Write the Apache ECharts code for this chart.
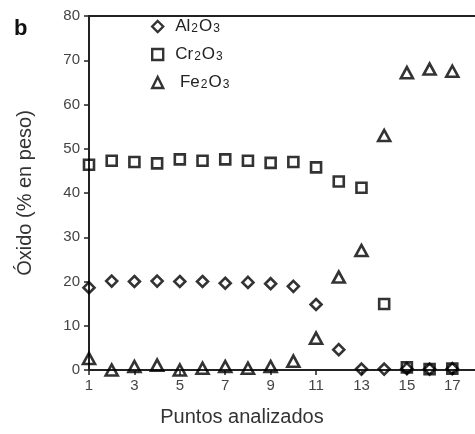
<!DOCTYPE html>
<html>
<head>
<meta charset="utf-8">
<script src="https://cdn.jsdelivr.net/npm/echarts@6/dist/echarts.min.js"></script>
<style>
  html, body { margin: 0; padding: 0; background: #fff; }
  #chart { width: 475px; height: 434px; }
</style>
</head>
<body>
<div id="chart"></div>
<script>
// puntos analizados 1..17
var puntos = [1, 2, 3, 4, 5, 6, 7, 8, 9, 10, 11, 12, 13, 14, 15, 16, 17];
var al2o3 = [18.6, 20.1, 20.0, 20.1, 20.0, 20.0, 19.6, 19.8, 19.5, 18.9, 14.8, 4.6, 0.2, 0.2, 0.3, 0.2, 0.3];
var cr2o3 = [46.4, 47.3, 47.0, 46.7, 47.6, 47.3, 47.6, 47.3, 46.8, 47.0, 45.8, 42.6, 41.2, 14.9, 0.6, 0.2, 0.3];
var fe2o3 = [2.6, 0.0, 0.8, 1.1, 0.0, 0.4, 0.8, 0.4, 0.8, 2.0, 7.2, 21.0, 27.0, 53.0, 67.2, 68.0, 67.5];
var xTicks = [1, 3, 5, 7, 9, 11, 13, 15, 17];

function pares(vals) {
  return vals.map(function (v, i) { return [puntos[i], v]; });
}

var chart = echarts.init(document.getElementById('chart'));

var font = 'Liberation Sans, Arial, sans-serif';
var estilo = { color: 'rgba(255,255,255,0)', borderColor: '#000', borderWidth: 2.6 };

var option = {
  backgroundColor: '#fff',
  animation: false,
  textStyle: { fontFamily: font },
  graphic: [{
    type: 'text', left: 14, top: 18,
    style: { text: 'b', font: 'bold 22px ' + font, fill: '#111' }
  }],
  legend: {
    orient: 'vertical',
    left: 151, top: 18, padding: 0,
    itemWidth: 11, itemHeight: 11,
    itemGap: 11,
    itemStyle: { borderWidth: 2.4 },
    textStyle: {
      fontSize: 17, color: '#222',
      rich: {
        g: { width: 7 },
        t: { fontSize: 17, color: '#222' },
        s: { fontSize: 12, color: '#222', verticalAlign: 'bottom', padding: [0, 1, 0, 1] }
      }
    },
    formatter: function (name) {
      var m = {
        'Al2O3': '{g|}{t|Al}{s|2}{t|O}{s|3}',
        'Cr2O3': '{g|}{t|Cr}{s|2}{t|O}{s|3}',
        'Fe2O3': '{g|}{t| Fe}{s|2}{t|O}{s|3}'
      };
      return m[name];
    },
    data: ['Al2O3', 'Cr2O3', 'Fe2O3']
  },
  grid: { left: 89, right: 0, top: 16, bottom: 64 },
  xAxis: [{
    type: 'value', min: 1, max: 18,
    name: 'Puntos analizados',
    nameLocation: 'middle', nameGap: 37,
    nameTextStyle: { fontSize: 20, color: '#333', padding: [0, 80, 0, 0] },
    axisLine: { lineStyle: { color: '#222', width: 2 } },
    axisTick: { length: 5, lineStyle: { color: '#222', width: 1.5 }, customValues: xTicks },
    axisLabel: { fontSize: 15, color: '#444', margin: 8, customValues: xTicks },
    splitLine: { show: false }
  }, {
    type: 'value', min: 1, max: 18, position: 'top',
    axisLine: { show: true, lineStyle: { color: '#222', width: 2 } },
    axisTick: { show: false }, axisLabel: { show: false }, splitLine: { show: false }
  }],
  yAxis: {
    type: 'value', min: 0, max: 80, interval: 10,
    name: 'Óxido (% en peso)',
    nameLocation: 'middle', nameGap: 54,
    nameTextStyle: { fontSize: 20, color: '#333' },
    axisLine: { show: true, lineStyle: { color: '#222', width: 2 } },
    axisTick: { show: true, length: 5, lineStyle: { color: '#222', width: 1.5 } },
    axisLabel: { fontSize: 15, color: '#444', margin: 9 },
    splitLine: { show: false }
  },
  series: [{
    name: 'Al2O3', type: 'scatter', symbol: 'diamond', symbolSize: 11,
    itemStyle: estilo, data: pares(al2o3)
  }, {
    name: 'Cr2O3', type: 'scatter', symbol: 'rect', symbolSize: 10,
    itemStyle: estilo, data: pares(cr2o3)
  }, {
    name: 'Fe2O3', type: 'scatter', symbol: 'triangle', symbolSize: [12, 11],
    itemStyle: estilo, data: pares(fe2o3)
  }]
};

chart.setOption(option);
window.onresize = chart.resize;
</script>
</body>
</html>
